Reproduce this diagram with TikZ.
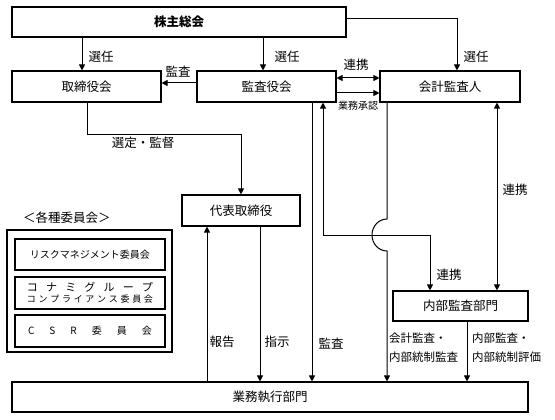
\documentclass[tikz,border=0pt]{standalone}
\usepackage{fontspec}
\setmainfont{Noto Sans CJK JP}
\usetikzlibrary{arrows.meta}

\begin{document}
\begin{tikzpicture}[x=1pt,y=-1pt,
  box/.style={draw,line width=1.1pt,inner sep=0pt,font=\fontsize{12.5}{14}\selectfont},
  sub/.style={draw,line width=1.1pt,inner sep=0pt,minimum width=150pt,font=\fontsize{10}{12}\selectfont},
  lbl/.style={inner sep=0pt,font=\fontsize{12.5}{14}\selectfont},
  two/.style={inner sep=0pt,anchor=west,align=left,font=\fontsize{11.5}{19}\selectfont},
  arr/.style={line width=1pt,-{Triangle[length=6pt,width=6pt]}},
  darr/.style={line width=1pt,{Triangle[length=6pt,width=6pt]}-{Triangle[length=6pt,width=6pt]}}]
\path[use as bounding box,fill=white] (0,0) rectangle (555,420);

% boxes
\node[box,minimum width=334pt,minimum height=30pt,font=\fontsize{12.5}{14}\selectfont\bfseries] (sokai) at (179,22) {株主総会};
\node[box,minimum width=149pt,minimum height=31pt] (torishimari) at (86.5,86.5) {取締役会};
\node[box,minimum width=139pt,minimum height=31pt] (kansayaku) at (266.5,86.5) {監査役会};
\node[box,minimum width=140pt,minimum height=31pt] (kaikei) at (450,86.5) {会計監査人};
\node[box,minimum width=118pt,minimum height=31pt] (daihyo) at (241,210.5) {代表取締役};
\node[box,minimum width=135pt,minimum height=30pt] (naibu) at (460.5,306) {内部監査部門};
\node[box,minimum width=516pt,minimum height=30pt] (gyomu) at (270,397) {業務執行部門};

% committees
\node[lbl] (iinkaititle) at (67,218) {＜各種委員会＞};
\node[box,minimum width=165pt,minimum height=122pt] (iinkai) at (89.5,291) {};
\node[sub,minimum height=31pt] (risk) at (90,254.5) {リスクマネジメント委員会};
\node[sub,minimum height=32pt,align=center] (comp) at (90,293)
  {\makebox[126pt]{\fontsize{11}{13}\selectfont コ\hfill ナ\hfill ミ\hfill グ\hfill ル\hfill ー\hfill プ}\\[-1pt]
   \makebox[126pt]{\fontsize{9}{11}\selectfont コ\hfill ン\hfill プ\hfill ラ\hfill イ\hfill ア\hfill ン\hfill ス\hfill 委\hfill 員\hfill 会}};
\node[sub,minimum height=32pt] (csr) at (90,331)
  {\makebox[124pt]{C\hfill S\hfill R\hfill 委\hfill 員\hfill 会}};

% columns
\coordinate (k1) at (82,0);
\coordinate (k2) at (263,0);
\coordinate (r1) at (457,19);
\coordinate (sentei) at (241,135);
\coordinate (k3) at (207,0);
\coordinate (k4) at (260,0);
\coordinate (k5) at (312,0);
\coordinate (renkei) at (323,235);
\coordinate (k6) at (387,0);
\coordinate (k7) at (497,0);
\coordinate (k8) at (467,0);
\coordinate (h1) at (0,78);
\coordinate (h2) at (0,83);
\coordinate (h3) at (0,93);

% connectors
\draw[arr] (sokai.south -| k1) -- (torishimari.north -| k1);
\draw[arr] (sokai.south -| k2) -- (kansayaku.north -| k2);
\draw[arr] (sokai.east |- r1) -- (r1) -- (kaikei.north -| r1);
\draw[arr] (kansayaku.west |- h2) -- (torishimari.east |- h2);
\draw[darr] (kansayaku.east |- h1) -- (kaikei.west |- h1);
\draw[arr] (kansayaku.east |- h3) -- (kaikei.west |- h3);
\draw[arr] (torishimari.south -| 87,0) |- (sentei) -- (daihyo.north);
\draw[arr] (gyomu.north -| k3) -- (daihyo.south -| k3);
\draw[arr] (daihyo.south -| k4) -- (gyomu.north -| k4);
\draw[arr] (kansayaku.south -| k5) -- (gyomu.north -| k5);
\draw[darr] (kansayaku.south -| renkei) -- (renkei) -| (naibu.north -| 430,0);
\draw[arr] (kaikei.south -| k6) -- (387,219)
  arc[start angle=270,end angle=90,x radius=15,y radius=16] -- (gyomu.north -| k6);
\draw[darr] (kaikei.south -| k7) -- (naibu.north -| k7);
\draw[arr] (naibu.south -| k8) -- (gyomu.north -| k8);

% labels
\node[lbl] (l1) at (101,57) {選任};
\node[lbl] (l2) at (287,57) {選任};
\node[lbl] (l3) at (476,57) {選任};
\node[lbl] (l4) at (178,72) {監査};
\node[lbl] (l5) at (356,65) {連携};
\node[lbl,font=\fontsize{10}{12}\selectfont] (l6) at (358,106) {業務承認};
\node[lbl] (l7) at (143,143) {選定・監督};
\node[lbl] (l8) at (449,275) {連携};
\node[lbl] (l9) at (515,190) {連携};
\node[lbl] (l10) at (222,342) {報告};
\node[lbl] (l11) at (277,342) {指示};
\node[lbl] (l12) at (331,344) {監査};
\node[two] (l13) at (389,348) {会計監査・\\内部統制監査};
\node[two] (l14) at (472,348) {内部監査・\\内部統制評価};
\end{tikzpicture}
\end{document}
